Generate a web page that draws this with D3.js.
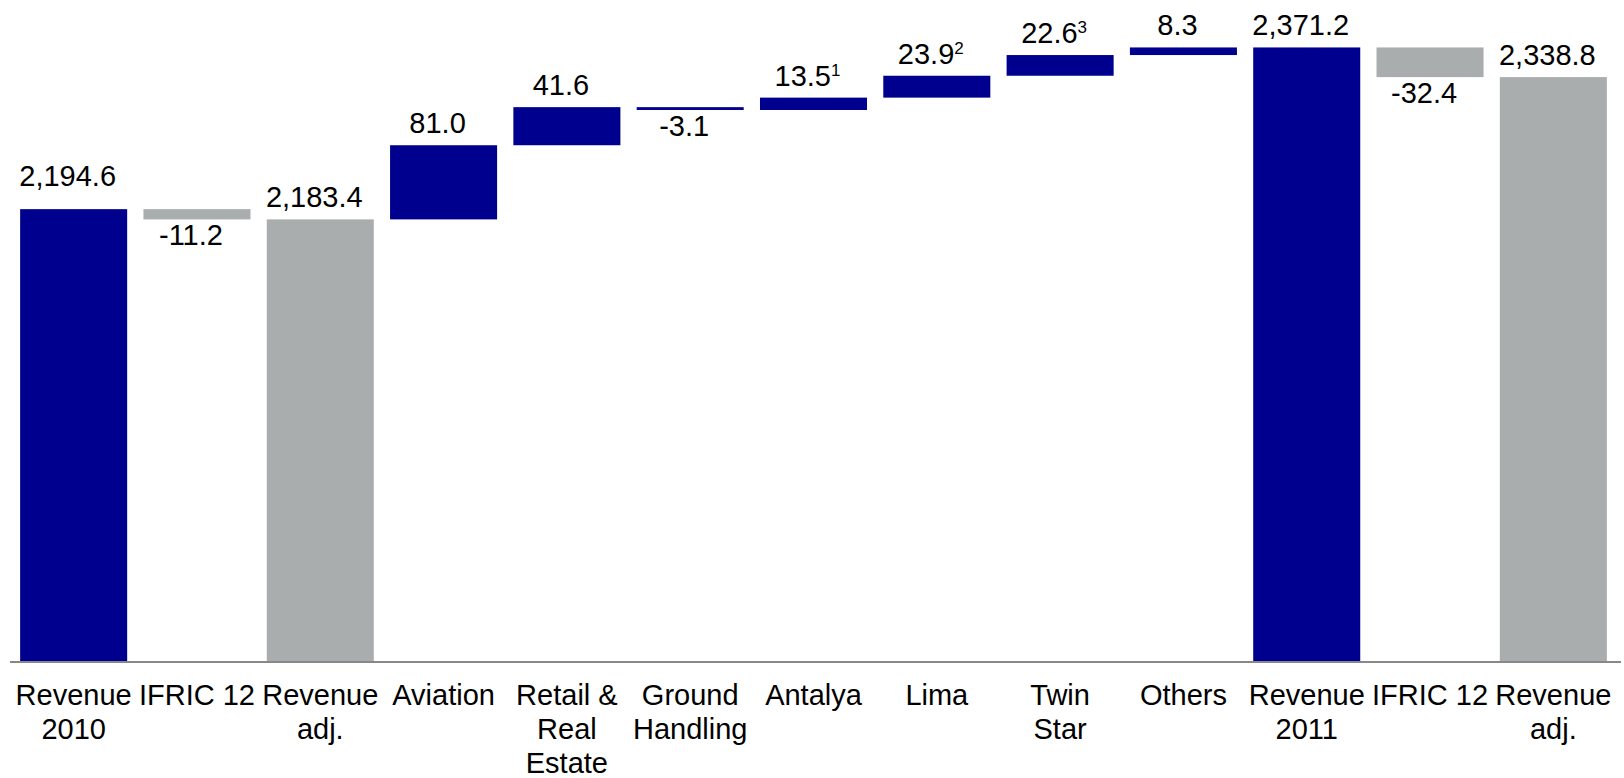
<!DOCTYPE html>
<html>
<head>
<meta charset="utf-8">
<script src="https://cdn.jsdelivr.net/npm/d3@7"></script>
<style>
  body { margin: 0; background: #fff; }
  svg text { font-family: "Liberation Sans", Arial, sans-serif; fill: #000; }
</style>
</head>
<body>
<svg width="1624" height="778"></svg>
<script>
var categories = [
  ["Revenue", "2010"], ["IFRIC 12"], ["Revenue", "adj."], ["Aviation"],
  ["Retail &", "Real", "Estate"], ["Ground", "Handling"], ["Antalya"], ["Lima"],
  ["Twin", "Star"], ["Others"], ["Revenue", "2011"], ["IFRIC 12"], ["Revenue", "adj."]
];
var values = [2194.6, -11.2, 2183.4, 81.0, 41.6, -3.1, 13.5, 23.9, 22.6, 8.3, 2371.2, -32.4, 2338.8];
// total = bar from the base, ifric/change = floating step
var kinds = ["total", "ifric", "adjusted", "change", "change", "change", "change", "change",
             "change", "change", "total", "ifric", "adjusted"];
var notes = ["", "", "", "", "", "", "1", "2", "3", "", "", "", ""];

var svg = d3.select("svg"),
    width = +svg.attr("width"),
    height = +svg.attr("height");

var blue = "#00008f", grey = "#a9adad";
var color = function(k) { return (k === "total" || k === "change") ? blue : grey; };

var fmt = d3.formatLocale({decimal: ".", thousands: ",", grouping: [3], currency: ["", ""], minus: "-"}).format(",.1f");

// running waterfall
var run = 0;
var bars = values.map(function(v, i) {
  var k = kinds[i], y0, y1;
  if (k === "total" || k === "adjusted") { y0 = null; y1 = v; run = v; }
  else { y0 = run; y1 = run + v; run = y1; }
  return {i: i, kind: k, value: v, y0: y0, y1: y1};
});

var x = d3.scaleBand()
    .domain(d3.range(categories.length))
    .range([12, 1615])
    .paddingInner(0.132)
    .paddingOuter(0.066);

var y = d3.scaleLinear()
    .domain([1700, 2400])
    .range([662, 662 - 700 * 0.9156]);

var base = y.domain()[0];

var g = svg.append("g");

g.selectAll(".bar")
  .data(bars)
  .enter().append("rect")
    .attr("class", "bar")
    .attr("x", function(d) { return x(d.i); })
    .attr("width", x.bandwidth())
    .attr("y", function(d) {
      var lo = d.y0 === null ? base : d.y0;
      return y(Math.max(lo, d.y1));
    })
    .attr("height", function(d) {
      var lo = d.y0 === null ? base : d.y0;
      return Math.max(2, Math.abs(y(lo) - y(d.y1)));
    })
    .attr("fill", function(d) { return color(d.kind); });

// baseline
svg.append("line")
    .attr("x1", 10).attr("x2", 1621)
    .attr("y1", y(base)).attr("y2", y(base))
    .attr("stroke", "#888").attr("stroke-width", 2);

// value labels
var lbl = g.selectAll(".val")
  .data(bars)
  .enter().append("text")
    .attr("class", "val")
    .attr("text-anchor", "middle")
    .style("font-size", "29px")
    .attr("x", function(d) { return x(d.i) + x.bandwidth() / 2 - 6; })
    .attr("y", function(d) {
      var lo = d.y0 === null ? base : d.y0;
      if (d.value < 0) return y(Math.min(lo, d.y1)) + 26;
      return y(Math.max(lo, d.y1)) - (d.i === 0 ? 23 : 12);
    });

lbl.append("tspan").text(function(d) { return fmt(d.value); });
lbl.append("tspan")
    .style("font-size", "17px")
    .attr("dy", -10)
    .text(function(d) { return notes[d.i]; });

// category labels
var cat = g.selectAll(".cat")
  .data(categories)
  .enter().append("text")
    .attr("class", "cat")
    .attr("text-anchor", "middle")
    .style("font-size", "29px")
    .attr("transform", function(d, i) { return "translate(" + (x(i) + x.bandwidth() / 2) + "," + (y(base) + 43) + ")"; });

cat.selectAll("tspan")
  .data(function(d) { return d; })
  .enter().append("tspan")
    .attr("x", 0)
    .attr("y", function(d, j) { return j * 34; })
    .text(function(d) { return d; });
</script>
</body>
</html>
